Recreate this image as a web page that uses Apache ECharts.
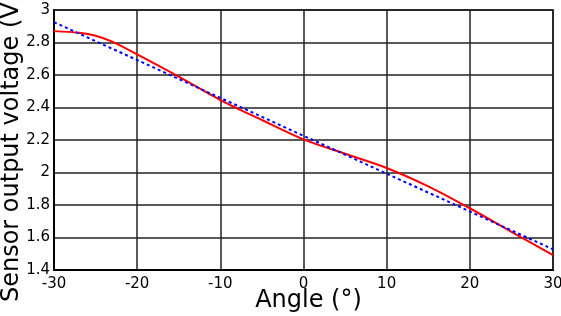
<!DOCTYPE html>
<html>
<head>
<meta charset="utf-8">
<script src="https://cdn.jsdelivr.net/npm/echarts@6/dist/echarts.min.js"></script>
<style>
	html, body { margin: 0; padding: 0; background: #fff; }
	#chart { width: 561px; height: 316px; }
</style>
</head>
<body>
<div id="chart"></div>
<script>
// measured sensor output (red)
var angleMeasured = [-30, -27, -25, -23, -20, -15, -10, -5, 0, 5, 10, 15, 20, 25, 30];
var voltMeasured = [2.87, 2.86, 2.842, 2.805, 2.727, 2.59, 2.446, 2.323, 2.204, 2.115, 2.028, 1.915, 1.78, 1.635, 1.492];
// linear fit (blue dotted)
var angleFit = [-30, -20, -10, 0, 10, 20, 30];
var voltFit = [2.925, 2.692, 2.459, 2.226, 1.993, 1.760, 1.527];

function pairs(xs, ys) {
	return xs.map(function (x, i) { return [x, ys[i]]; });
}

var chart = echarts.init(document.getElementById('chart'));
var font = 'DejaVu Sans';
var option = {
	animation: false,
	grid: {
		left: 54, right: 8, top: 10, bottom: 46,
		containLabel: false, outerBoundsMode: 'none',
		show: true, borderColor: '#000', borderWidth: 1.5
	},
	xAxis: {
		type: 'value', min: -30, max: 30, interval: 10,
		name: 'Angle (°)', nameLocation: 'middle', nameGap: 19, nameMoveOverlap: false,
		nameTextStyle: { color: '#000', fontSize: 24, fontFamily: font, padding: [0, 0, 0, 10] },
		axisLine: { show: true, onZero: false, lineStyle: { color: '#000', width: 2 } },
		axisTick: { show: false },
		axisLabel: { color: '#000', fontSize: 15, fontFamily: font, margin: 7 },
		splitLine: { show: true, lineStyle: { color: '#222', width: 1.5 } }
	},
	yAxis: {
		type: 'value', min: 1.4, max: 3, interval: 0.2,
		name: 'Sensor output voltage (V)', nameLocation: 'middle', nameGap: 30, nameMoveOverlap: false,
		nameTextStyle: { color: '#000', fontSize: 24, fontFamily: font, padding: [0, 15, 0, 0] },
		axisLine: { show: true, onZero: false, lineStyle: { color: '#000', width: 2 } },
		axisTick: { show: false },
		axisLabel: {
			color: '#000', fontSize: 15, fontFamily: font, margin: 4,
			formatter: function (v) { return String(Math.round(v * 10) / 10); }
		},
		splitLine: { show: true, lineStyle: { color: '#222', width: 1.5 } }
	},
	series: [{
		name: 'measured',
		type: 'line',
		smooth: 0.3,
		showSymbol: false,
		lineStyle: { color: '#ff0000', width: 2 },
		data: pairs(angleMeasured, voltMeasured),
		z: 3
	}, {
		name: 'fit',
		type: 'line',
		showSymbol: false,
		lineStyle: { color: '#0000ff', width: 2, type: [3, 3] },
		data: pairs(angleFit, voltFit),
		z: 4
	}]
};
chart.setOption(option);
</script>
</body>
</html>
